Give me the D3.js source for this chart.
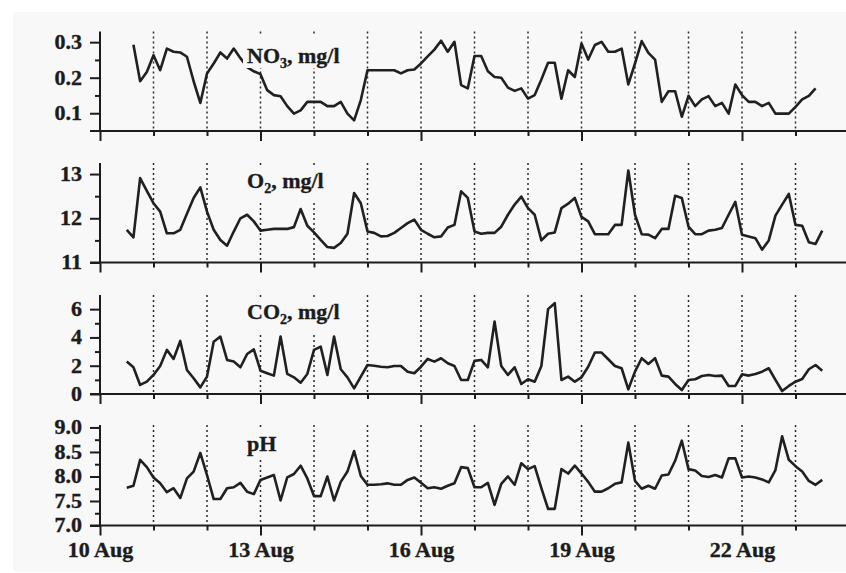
<!DOCTYPE html>
<html>
<head>
<meta charset="utf-8">
<script src="https://cdn.jsdelivr.net/npm/d3@7"></script>
<style>
  body { margin: 0; background: #ffffff; }
  text { font-family: "Liberation Serif", "Times New Roman", serif; font-weight: bold;
         fill: #1c1c1c; stroke: #1c1c1c; stroke-width: 0.35px; }
</style>
</head>
<body>
<svg id="chart" width="846" height="573"></svg>
<script>
// Sampling: every 3 hours; days counted as day-of-month in August
const stepDays = 0.125;
const no3Start = 10.625;   // 10 Aug 15:00
const seriesStart = 10.5;  // 10 Aug 12:00

// Nitrate, mg/l
const no3 = [
  0.293, 0.190, 0.216, 0.263, 0.221, 0.282, 0.273, 0.271, 0.259, 0.190,
  0.129, 0.212, 0.240, 0.271, 0.254, 0.282, 0.255, 0.230, 0.218, 0.210,
  0.165, 0.151, 0.148, 0.120, 0.099, 0.108, 0.132, 0.132, 0.132, 0.120,
  0.120, 0.132, 0.099, 0.080, 0.137, 0.221, 0.221, 0.221, 0.221, 0.221,
  0.212, 0.221, 0.223, 0.240, 0.260, 0.279, 0.304, 0.273, 0.301, 0.179,
  0.170, 0.261, 0.261, 0.218, 0.202, 0.200, 0.172, 0.163, 0.170, 0.141,
  0.151, 0.195, 0.242, 0.242, 0.141, 0.221, 0.202, 0.296, 0.251, 0.292,
  0.301, 0.273, 0.273, 0.282, 0.181, 0.240, 0.303, 0.270, 0.251, 0.132,
  0.162, 0.162, 0.090, 0.149, 0.120, 0.139, 0.148, 0.120, 0.129, 0.099,
  0.181, 0.151, 0.132, 0.132, 0.120, 0.129, 0.099, 0.099, 0.099, 0.118,
  0.139, 0.149, 0.170
];

// Dissolved oxygen, mg/l
const o2 = [
  11.74, 11.57, 12.91, 12.62, 12.34, 12.15, 11.66, 11.66, 11.74, 12.10,
  12.46, 12.70, 12.15, 11.74, 11.51, 11.38, 11.70, 12.00, 12.08, 11.93,
  11.72, 11.74, 11.76, 11.76, 11.76, 11.80, 12.21, 11.83, 11.68, 11.51,
  11.35, 11.33, 11.44, 11.65, 12.57, 12.34, 11.70, 11.67, 11.59, 11.60,
  11.67, 11.78, 11.89, 11.97, 11.74, 11.65, 11.57, 11.59, 11.79, 11.85,
  12.61, 12.46, 11.70, 11.65, 11.67, 11.67, 11.81, 12.08, 12.31, 12.49,
  12.23, 12.08, 11.50, 11.65, 11.68, 12.23, 12.33, 12.46, 12.03, 11.93,
  11.64, 11.64, 11.64, 11.85, 11.85, 13.08, 12.08, 11.64, 11.63, 11.55,
  11.76, 11.76, 12.51, 12.46, 11.81, 11.64, 11.64, 11.72, 11.74, 11.78,
  12.08, 12.37, 11.63, 11.59, 11.55, 11.29, 11.50, 12.06, 12.31, 12.55,
  11.85, 11.83, 11.46, 11.42, 11.72
];

// Carbon dioxide, mg/l
const co2 = [
  2.29, 1.89, 0.64, 0.87, 1.35, 1.98, 3.12, 2.48, 3.75, 1.70,
  1.11, 0.47, 1.23, 3.70, 4.06, 2.41, 2.29, 1.89, 2.83, 3.16,
  1.65, 1.47, 1.30, 4.06, 1.42, 1.18, 0.80, 1.42, 3.12, 3.35,
  1.35, 4.06, 1.75, 1.18, 0.40, 1.23, 2.05, 2.00, 1.93, 1.89,
  1.98, 1.98, 1.58, 1.47, 1.93, 2.48, 2.29, 2.53, 2.17, 1.98,
  0.99, 0.99, 2.34, 2.41, 1.89, 5.12, 1.98, 1.35, 1.89, 0.71,
  1.04, 0.87, 1.98, 6.00, 6.42, 0.99, 1.23, 0.87, 1.18, 1.93,
  2.93, 2.93, 2.46, 1.98, 1.82, 0.33, 1.58, 2.53, 2.12, 2.53,
  1.30, 1.23, 0.71, 0.28, 0.99, 1.04, 1.27, 1.35, 1.27, 1.30,
  0.57, 0.57, 1.39, 1.30, 1.42, 1.58, 1.82, 1.00, 0.21, 0.57,
  0.87, 1.06, 1.75, 2.05, 1.65
];

// pH
const ph = [
  7.77, 7.81, 8.34, 8.19, 7.98, 7.86, 7.68, 7.76, 7.56, 7.96,
  8.10, 8.48, 8.03, 7.54, 7.54, 7.76, 7.78, 7.87, 7.69, 7.64,
  7.93, 7.98, 8.03, 7.51, 7.98, 8.05, 8.22, 7.96, 7.60, 7.60,
  8.00, 7.51, 7.89, 8.10, 8.52, 8.01, 7.83, 7.83, 7.84, 7.86,
  7.83, 7.83, 7.93, 7.98, 7.87, 7.76, 7.78, 7.75, 7.81, 7.86,
  8.19, 8.17, 7.78, 7.78, 7.87, 7.42, 7.85, 8.00, 7.83, 8.27,
  8.15, 8.21, 7.76, 7.34, 7.34, 8.15, 8.06, 8.22, 8.06, 7.89,
  7.69, 7.69, 7.76, 7.85, 7.88, 8.69, 7.91, 7.75, 7.81, 7.75,
  8.02, 8.04, 8.32, 8.73, 8.15, 8.12, 8.01, 7.99, 8.03, 7.98,
  8.37, 8.37, 7.98, 8.00, 7.98, 7.94, 7.88, 8.13, 8.82, 8.34,
  8.21, 8.10, 7.91, 7.83, 7.93
];

// Time axis
const xTickDays = [10, 13, 16, 19, 22];
const xTickLabels = ["10 Aug", "13 Aug", "16 Aug", "19 Aug", "22 Aug"];
const xMinorDays = [11, 12, 14, 15, 17, 18, 20, 21, 23];
const dayGridDays = [11, 12, 13, 14, 15, 16, 17, 18, 19, 20, 21, 22, 23];

// Value axes
const no3Ticks = [0.1, 0.2, 0.3], no3Minor = [0.15, 0.25];
const o2Ticks = [11, 12, 13], o2Minor = [11.5, 12.5];
const co2Ticks = [0, 2, 4, 6], co2Minor = [1, 3, 5];
const phTicks = [7.0, 7.5, 8.0, 8.5, 9.0], phMinor = [7.25, 7.75, 8.25, 8.75];

const svg = d3.select("#chart");
const W = 846, H = 573;
const ink = "#1c1c1c";
const paper = "#f8f8f8";
const stretch = 1.1;   // tick lettering is set slightly wide

svg.append("rect")
  .attr("x", 13).attr("y", 12).attr("width", W - 13).attr("height", H - 13)
  .attr("fill", paper);

const x = d3.scaleLinear().domain([10, 24]).range([100, 849]);

const panels = [
  { values: no3, start: no3Start, domain: [0.05, 0.33], top: 31.5, bottom: 131,
    ticks: no3Ticks, minor: no3Minor, fmt: d3.format(".1f"),
    label: ["NO", "3", ", mg/l"], labelY: 63, box: [243, 36, 104, 32] },
  { values: o2, start: seriesStart, domain: [11, 13.25], top: 163, bottom: 262.5,
    ticks: o2Ticks, minor: o2Minor, fmt: d3.format("d"),
    label: ["O", "2", ", mg/l"], labelY: 188, box: [243, 166, 88, 34] },
  { values: co2, start: seriesStart, domain: [0, 7], top: 295, bottom: 394,
    ticks: co2Ticks, minor: co2Minor, fmt: d3.format("d"),
    label: ["CO", "2", ", mg/l"], labelY: 319, box: [243, 298, 104, 35] },
  { values: ph, start: seriesStart, domain: [7, 9.05], top: 425, bottom: 525.5,
    ticks: phTicks, minor: phMinor, fmt: d3.format(".1f"),
    label: ["pH"], labelY: 451, box: [243, 429, 40, 29] }
];

panels.forEach((p, idx) => {
  const y = d3.scaleLinear().domain(p.domain).range([p.bottom, p.top]);
  const g = svg.append("g");

  // daily dotted guides
  g.append("g").selectAll("line").data(dayGridDays).join("line")
    .attr("x1", d => x(d)).attr("x2", d => x(d))
    .attr("y1", p.top).attr("y2", p.bottom)
    .attr("stroke", "#2a2a2a").attr("stroke-width", 1.5)
    .attr("stroke-dasharray", "2,3");

  // measurement series
  const line = d3.line()
    .x((d, i) => x(p.start + i * stepDays))
    .y(d => y(d));
  g.append("path").datum(p.values)
    .attr("d", line)
    .attr("fill", "none").attr("stroke", "#202020")
    .attr("stroke-width", 2.6).attr("stroke-linejoin", "round");

  // parameter label on an opaque box
  g.append("rect")
    .attr("x", p.box[0]).attr("y", p.box[1])
    .attr("width", p.box[2]).attr("height", p.box[3])
    .attr("fill", paper);
  const t = g.append("text").attr("x", 247).attr("y", p.labelY)
    .style("font-size", "22px");
  t.append("tspan").text(p.label[0]);
  if (p.label.length > 1) {
    t.append("tspan").text(p.label[1]).attr("dy", 5).style("font-size", "14px");
    t.append("tspan").text(p.label[2]).attr("dy", -5);
  }

  // value axis
  const yAxis = d3.axisLeft(y).tickValues(p.ticks).tickFormat(p.fmt)
    .tickSize(10).tickPadding(8);
  const ya = g.append("g").attr("transform", "translate(100,0)").call(yAxis);
  const yMinor = d3.axisLeft(y).tickValues(p.minor).tickFormat("").tickSize(5);
  const ym = g.append("g").attr("transform", "translate(100,0)").call(yMinor);
  [ya, ym].forEach(a => {
    a.select(".domain").remove();
    a.selectAll("line").attr("stroke", ink).attr("stroke-width", 2);
  });
  ya.selectAll("text").style("font-size", "20px").attr("fill", ink)
    .attr("x", -18 / stretch).attr("transform", `scale(${stretch},1)`);
  g.append("line").attr("x1", 100).attr("x2", 100)
    .attr("y1", p.top).attr("y2", p.bottom)
    .attr("stroke", ink).attr("stroke-width", 2);

  // time axis
  const last = idx === panels.length - 1;
  const xAxis = d3.axisBottom(x).tickValues(xTickDays)
    .tickFormat((d, i) => last ? xTickLabels[i] : "").tickSize(10);
  const xa = g.append("g").attr("transform", `translate(0,${p.bottom})`).call(xAxis);
  const xMinor = d3.axisBottom(x).tickValues(xMinorDays).tickFormat("").tickSize(5);
  const xm = g.append("g").attr("transform", `translate(0,${p.bottom})`).call(xMinor);
  [xa, xm].forEach(a => {
    a.select(".domain").remove();
    a.selectAll("line").attr("stroke", ink).attr("stroke-width", 2);
  });
  xa.selectAll("text").style("font-size", "20px").attr("fill", ink)
    .attr("y", 32).attr("dy", 0).attr("transform", `scale(${stretch},1)`);
  g.append("line").attr("x1", 90).attr("x2", 849)
    .attr("y1", p.bottom).attr("y2", p.bottom)
    .attr("stroke", ink).attr("stroke-width", 2);
});
</script>
</body>
</html>
